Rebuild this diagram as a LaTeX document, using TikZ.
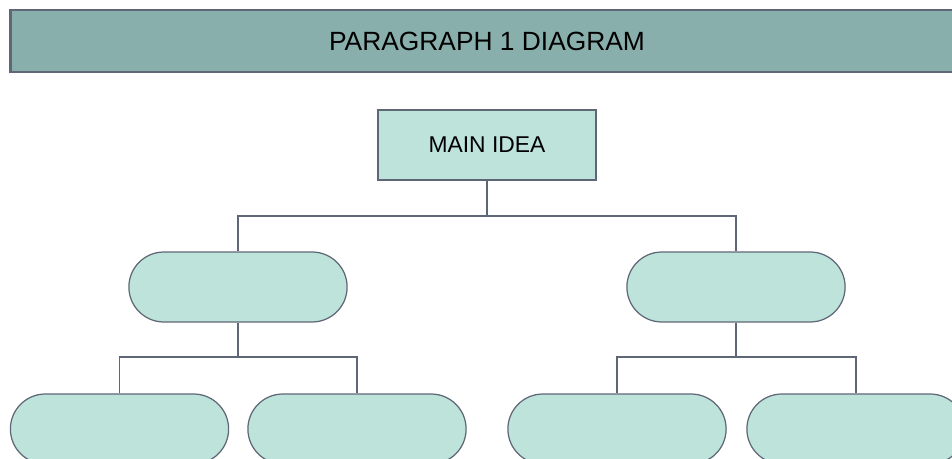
\documentclass[tikz,border=0pt]{standalone}
\usepackage{fontspec}
\setmainfont{Liberation Sans}
\usetikzlibrary{positioning, shapes.misc}
\definecolor{headfill}{HTML}{88AFAC}
\definecolor{pillfill}{HTML}{BDE3DB}
\definecolor{edgegray}{HTML}{5F6676}

\begin{document}
\begin{tikzpicture}[
            x=0.02cm, y=-0.02cm,
            header box/.style={draw=edgegray, line width=1.6pt, fill=headfill, minimum width=19.08cm, minimum height=1.24cm, font=\fontsize{15}{18}\selectfont},
            idea box/.style={draw=edgegray, line width=0.7pt, fill=pillfill, minimum width=4.36cm, minimum height=1.4cm, font=\fontsize{13}{16}\selectfont},
            pill/.style={rounded rectangle, draw=edgegray, line width=0.7pt, fill=pillfill, minimum width=4.6cm, minimum height=1.4cm},
            tree line/.style={draw=edgegray, line width=0.9pt}
        ]

            \useasboundingbox (0,0) rectangle (952,459);
            \clip (0,0) rectangle (952,459);

            % --- Title bar ---
            \node[header box] (title) at (487,41) {PARAGRAPH 1 DIAGRAM};

            % --- Main idea and the two branches ---
            \node[idea box] (main) at (487,145) {MAIN IDEA};
            \node[pill] (midl) at (238,287) {};
            \node[pill] (midr) at (736,287) {};

            % --- Bottom row ---
            \node[pill] (botll) at (119.5,429) {};
            \node[pill] (botlr) at (357,429) {};
            \node[pill] (botrl) at (617,429) {};
            \node[pill] (botrr) at (856,429) {};

            % --- Forks ---
            \coordinate (forktop) at (487,216);
            \coordinate (forkl) at (238,357);
            \coordinate (forkr) at (736,357);

            \draw[tree line] (main.south) -- (forktop) -| (midl.north);
            \draw[tree line] (forktop) -| (midr.north);
            \draw[tree line] (midl.south) -- (forkl) -| (botll.north);
            \draw[tree line] (forkl) -| (botlr.north);
            \draw[tree line] (midr.south) -- (forkr) -| (botrl.north);
            \draw[tree line] (forkr) -| (botrr.north);

        \end{tikzpicture}
\end{document}
